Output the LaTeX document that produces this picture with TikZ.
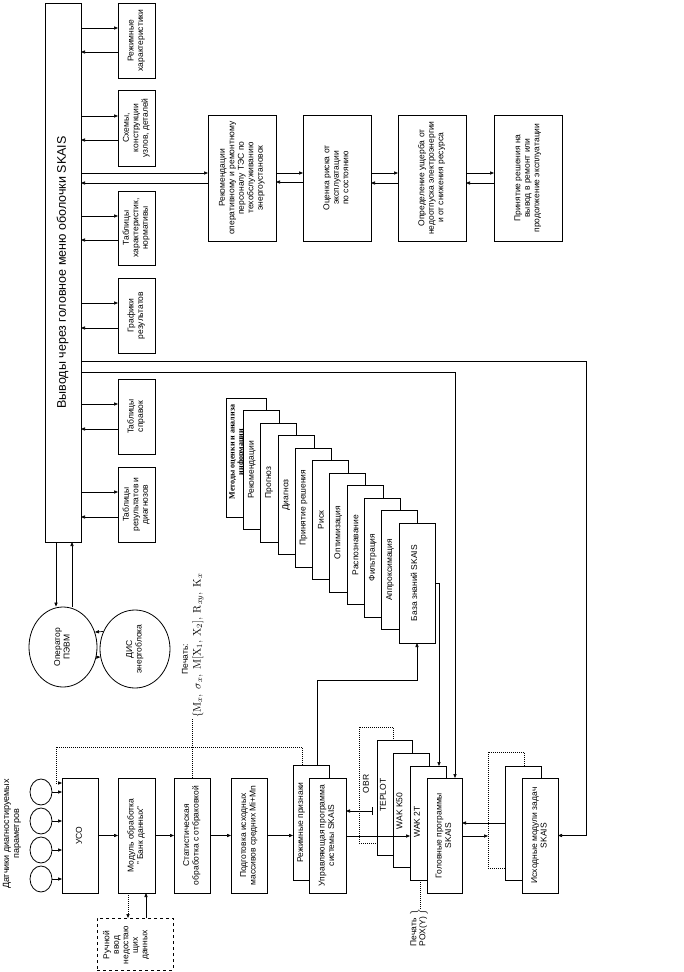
\documentclass[tikz,border=0pt]{standalone}
\usepackage[no-math]{fontspec}
\setmainfont{Liberation Sans}
\newfontfamily\serifbf{Liberation Serif}
\usepackage{graphicx}
\usetikzlibrary{arrows.meta,shapes.geometric}
\newcommand\rtx[1]{\rotatebox{90}{\begin{tabular}{@{}c@{}}#1\end{tabular}}}
\newcommand\mybox[7][]{\node[box,#1,minimum width={#5-#3},minimum height={#6-#4}] (#2) at ({(#3+#5)/2},{(#4+#6)/2}) {\rtx{#7}};}
\begin{document}
\begin{tikzpicture}[x=1pt,y=-1pt,
 box/.style={draw,fill=white,line width=0.8pt,inner sep=0pt,outer sep=0pt,font=\fontsize{8.5}{9.5}\selectfont},
 arr/.style={-{Triangle[length=4pt,width=3.2pt]},line width=0.7pt},
 dotl/.style={line width=0.7pt,dash pattern=on 1pt off 1pt},
 lbl/.style={font=\fontsize{8.5}{9.5}\selectfont,inner sep=0pt,rotate=90,align=center},
 ell/.style={draw,ellipse,line width=0.8pt,inner sep=0pt,font=\fontsize{8.5}{9.5}\selectfont}]
\useasboundingbox (0,0) rectangle (683,972);

% main header box
\mybox[font=\fontsize{12.5}{14}\selectfont]{main}{45}{3}{81}{542}{Выводы через головное меню оболочки SKAIS}

% right column boxes
\mybox{rc1}{118}{3}{155}{78}{Режимные\\характеристики}
\mybox{rc2}{118}{90}{155}{166}{Схемы,\\конструкции\\узлов, деталей}
\mybox{rc3}{118}{191}{155}{265}{Таблицы\\характеристик,\\нормативы}
\mybox{rc4}{118}{278}{155}{353}{Графики\\результатов}
\mybox{rc5}{118}{379}{155}{454}{Таблицы\\справок}
\mybox{rc6}{118}{467}{155}{542}{Таблицы\\результатов и\\диагнозов}

% recommendation row
\mybox{rek}{208}{115}{276}{241}{Рекомендации\\оперативному и ремонтному\\персоналу ТЭС по\\техобслуживанию\\энергоустановок}
\mybox{ots}{303}{115}{371}{241}{Оценка риска от\\эксплуатации\\по состоянию}
\mybox{opr}{398}{115}{466}{241}{Определение ущерба от\\недоотпуска электроэнергии\\и от снижения ресурса}
\mybox{prn}{494}{115}{562}{241}{Принятие решения на\\вывод в ремонт или\\продолжение эксплуатации}

% ellipses
\node[ell,minimum width=68,minimum height=80] (oper) at (63,647) {\rtx{Оператор\\ПЭВМ}};
\node[ell,minimum width=70,minimum height=78] (dis) at (135,649) {\rtx{ДИС\\энергоблока}};

% cascade of methods
\node[box,minimum width=40,minimum height=119,anchor=north west] (m0) at (226,398) {};
\node[lbl,font=\serifbf\bfseries\fontsize{8}{8.5}\selectfont] (mt0) at (237,452) {Методы оценки и анализа\\информации};
\foreach \i/\t in {1/Рекомендации,2/Прогноз,3/Диагноз,4/Принятие решения,5/Риск,6/Оптимизация,7/Распознавание,8/Фильтрация,9/Аппроксимация}{
 \pgfmathsetmacro\xl{226+17.3*\i}
 \pgfmathsetmacro\yt{398+12.5*\i}
 \node[box,minimum width=36,minimum height=119,anchor=north west] (m\i) at (\xl,\yt) {};
 \node[lbl] (mt\i) at (\xl+8.5,\yt+59.5) {\t};
}
\node[box,minimum width=36,minimum height=120,anchor=north west] (m10) at (399,523) {};
\node[lbl] (mt10) at (414,583) {База знаний SKAIS};

% sensors
\foreach \i/\y in {1/792,2/821,3/850,4/879}{
 \node[ell,minimum width=22,minimum height=26] (s\i) at (41,\y) {};
}
\node[lbl,font=\fontsize{9}{10}\selectfont] (dat) at (12,834) {Датчики диагностируемых\\параметров};

% bottom row
\mybox{uso}{62}{778}{98}{893}{УСО}
\mybox{mod}{118}{778}{155}{893}{Модуль обработка\\" Банк данных"}
\mybox{stat}{174}{778}{210}{893}{Статистическая\\обработка с отбраковкой}
\mybox{podg}{231}{778}{267}{893}{Подготовка исходных\\массивов средних Mi+Mn}
\node[box,minimum width=36,minimum height=115] (rp) at (311,822.5) {};
\node[lbl] (rpt) at (301,822.5) {Режимные признаки};
\mybox{upr}{309}{778}{346}{893}{Управляющая программа\\системы SKAIS}

\node[box,dotl,minimum width=34,minimum height=116] (obr) at (376,785) {};
\node[lbl] (obrt) at (366,784) {OBR};
\node[box,minimum width=35,minimum height=115] (teplot) at (394.5,797.5) {};
\node[lbl] (teplott) at (383,795) {TEPLOT};
\node[box,minimum width=36,minimum height=114] (wak50) at (411,810) {};
\node[lbl] (wak50t) at (399.5,811) {WAK K50};
\node[box,minimum width=36,minimum height=114] (wak2) at (428,823) {};
\node[lbl] (wak2t) at (417,822) {WAK 2T};
\mybox{golov}{427}{778}{462}{893}{Головные программы\\SKAIS}

\node[box,dotl,minimum width=36,minimum height=116] (isx1) at (506,810) {};
\node[box,minimum width=36,minimum height=114] (isx2) at (523,823) {};
\mybox{isx3}{522}{778}{558}{893}{Исходные модули задач\\SKAIS}

\node[box,dashed,minimum width=76,minimum height=52] (hand) at (135,944) {};
\node[lbl] (handt) at (126,945) {Ручной\\ввод\\недостаю\\щих\\данных};

% print labels
\node[rotate=90,anchor=west,inner sep=0pt,font=\fontsize{11}{12}\selectfont] (pf) at (198,718) {$\{\mathrm{M}_x,\; \sigma_x,\; \mathrm{M}[\mathrm{X}_1,\, \mathrm{X}_2],\; \mathrm{R}_{xy},\; \mathrm{K}_x$};
\node[lbl] (pl) at (185,659) {Печать:};
\node[rotate=90,anchor=east,inner sep=0pt,font=\fontsize{8.5}{9}\selectfont] (pox) at (419,909) {\begin{tabular}{@{}l@{}}Печать\\POX(Y)\end{tabular}$\left.\vphantom{\begin{tabular}{c}X\\X\end{tabular}}\right\}$};

% ---------- connectors ----------
\foreach \n/\a/\b in {rc1/28/52,rc2/116/140,rc3/216/240,rc4/303/328,rc5/404/429,rc6/492/517}{
 \draw[arr] (main.east |- 0,\a) -- (\n.west |- 0,\a);
 \draw[arr] (\n.west |- 0,\b) -- (main.east |- 0,\b);
}
\draw[arr] (main.east |- 0,173) -- (rek.west |- 0,173);
\draw[arr] (rek.west |- 0,183) -- (main.east |- 0,183);
\draw[arr] (rek.east |- 0,173) -- (ots.west |- 0,173);
\draw[arr] (ots.west |- 0,182) -- (rek.east |- 0,182);
\draw[arr] (ots.east |- 0,173) -- (opr.west |- 0,173);
\draw[arr] (opr.west |- 0,183) -- (ots.east |- 0,183);
\draw[arr] (opr.east |- 0,173) -- (prn.west |- 0,173);
\draw[arr] (prn.west |- 0,183) -- (opr.east |- 0,183);

\coordinate (c1) at (586,361);
\draw[arr] (main.east |- c1) -- (c1) |- (isx3.east);
\draw[arr] (main.east |- 0,372) -| ([xshift=10.5pt]golov.north);
\draw[arr] (m10.east) -| ([xshift=11pt]wak2.north);
\draw[arr] ([xshift=6pt]rp.north) |- ([yshift=-37pt]m10.south) -- (m10.south);

\draw[arr] ([xshift=-7pt]main.south) -- ([xshift=-7pt]main.south |- oper.north);
\draw[arr] ([xshift=9pt]main.south |- oper.north) -- ([xshift=9pt]main.south);
\draw[arr] (dis.151.6) -- (oper.25.5);
\draw[arr] (oper.343) -- (dis.193);

\foreach \i in {1,...,4}{\draw[arr] (s\i.east) -- (s\i.east -| uso.west);}
\draw[arr] (uso.east) -- (mod.west);
\draw[arr] (mod.east) -- (stat.west);
\draw[arr] (stat.east) -- (podg.west);
\draw[arr] (podg.east) -- (podg.east -| rp.west);
\draw[arr] (upr.east |- 0,836) -- (wak2.west |- 0,836);
\draw[arr] (golov.east |- 0,836) -- (isx1.west |- 0,836);
\draw[arr] (isx2.west |- 0,823) -- (golov.east |- 0,823);
\coordinate (ob) at (372,811);
\draw[arr] (ob) -- (ob -| upr.east);
\draw[line width=0.7pt] ([yshift=4pt]ob) -- ([yshift=-4pt]ob);

\draw[dotl,-{Triangle[length=4pt,width=3.2pt]}] ([xshift=-8.5pt]mod.south) -- ([xshift=-8.5pt]mod.south |- hand.north);
\draw[arr] ([xshift=9.5pt]mod.south |- hand.north) -- ([xshift=9.5pt]mod.south);

\draw[dotl] (stat.north) -- (stat.north |- pf.west);
\coordinate (d1) at (56,747);
\draw[dotl,-{Triangle[length=4pt,width=3.2pt]}] ([xshift=-9pt]rp.north) |- (d1) |- (uso.west |- 0,783);
\draw[dotl] ([xshift=-8pt]wak2.south) -- ([xshift=-8pt]wak2.south |- pox.east);
\end{tikzpicture}
\end{document}
